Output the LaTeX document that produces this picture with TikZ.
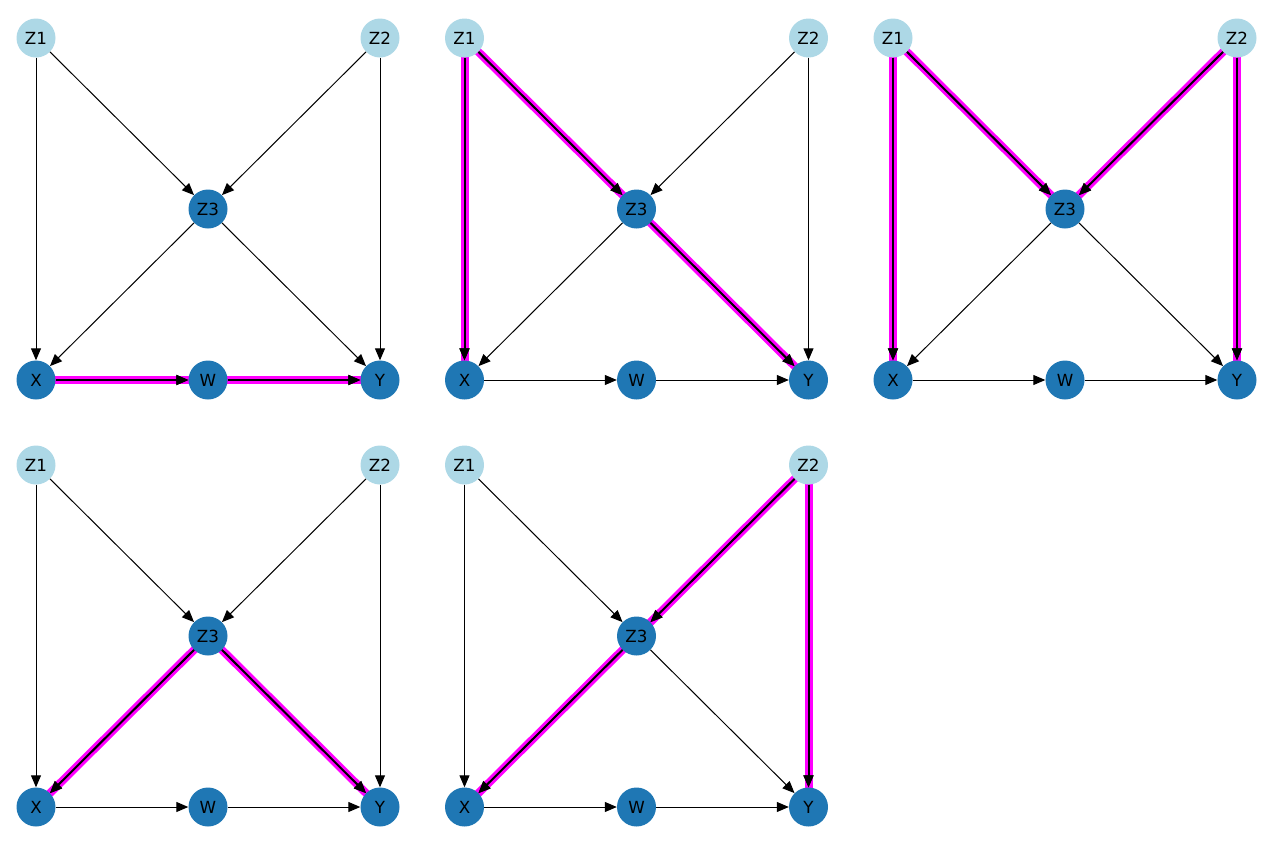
\documentclass[tikz,border=0pt]{standalone}
\usepackage{fontspec}
\setmainfont{DejaVu Sans}
\usetikzlibrary{arrows.meta,backgrounds}
\definecolor{lb}{HTML}{ADD8E6}
\definecolor{mb}{HTML}{1F77B4}
\definecolor{hlmag}{HTML}{FF00FF}
\tikzset{
  vnode/.style={circle,inner sep=0pt,minimum size=39pt,font=\fontsize{16.7}{20}\selectfont,text=black},
  light/.style={vnode,fill=lb},
  dark/.style={vnode,fill=mb},
  edge/.style={draw=black,line width=1pt,-{Triangle[length=12pt,width=10pt]}},
  hledge/.style={draw=black,line width=2pt,-{Triangle[length=12pt,width=10pt]}},
  hlband/.style={draw=hlmag,line width=8pt},
}
\newcommand{\dagpanel}[4]{%
  \begin{scope}[shift={(#2,#3)}]
    \node[light] (#1Z1) at (0,0) {Z1};
    \node[light] (#1Z2) at (344,0) {Z2};
    \node[dark] (#1Z3) at (172,171) {Z3};
    \node[dark] (#1X) at (0,342) {X};
    \node[dark] (#1W) at (172,342) {W};
    \node[dark] (#1Y) at (344,342) {Y};
  \end{scope}
  \begin{scope}[on background layer]
    \foreach \a/\b in {#4} {\draw[hlband] (#1\a.center) -- (#1\b.center);}
  \end{scope}
  \foreach \a/\b in {Z1/X,Z1/Z3,Z2/Z3,Z2/Y,Z3/X,Z3/Y,X/W,W/Y} {\draw[edge] (#1\a) -- (#1\b);}
  \foreach \a/\b in {#4} {\draw[hledge] (#1\a) -- (#1\b);}
}
\begin{document}
\begin{tikzpicture}[x=1pt,y=-1pt]
\useasboundingbox (0,0) rectangle (1272,849);
\dagpanel{a}{36}{38}{X/W,W/Y}
\dagpanel{b}{464.5}{38}{Z1/X,Z1/Z3,Z3/Y}
\dagpanel{c}{893}{38}{Z1/X,Z1/Z3,Z2/Z3,Z2/Y}
\dagpanel{d}{36}{465}{Z3/X,Z3/Y}
\dagpanel{e}{464.5}{465}{Z2/Z3,Z3/X,Z2/Y}
\end{tikzpicture}
\end{document}
